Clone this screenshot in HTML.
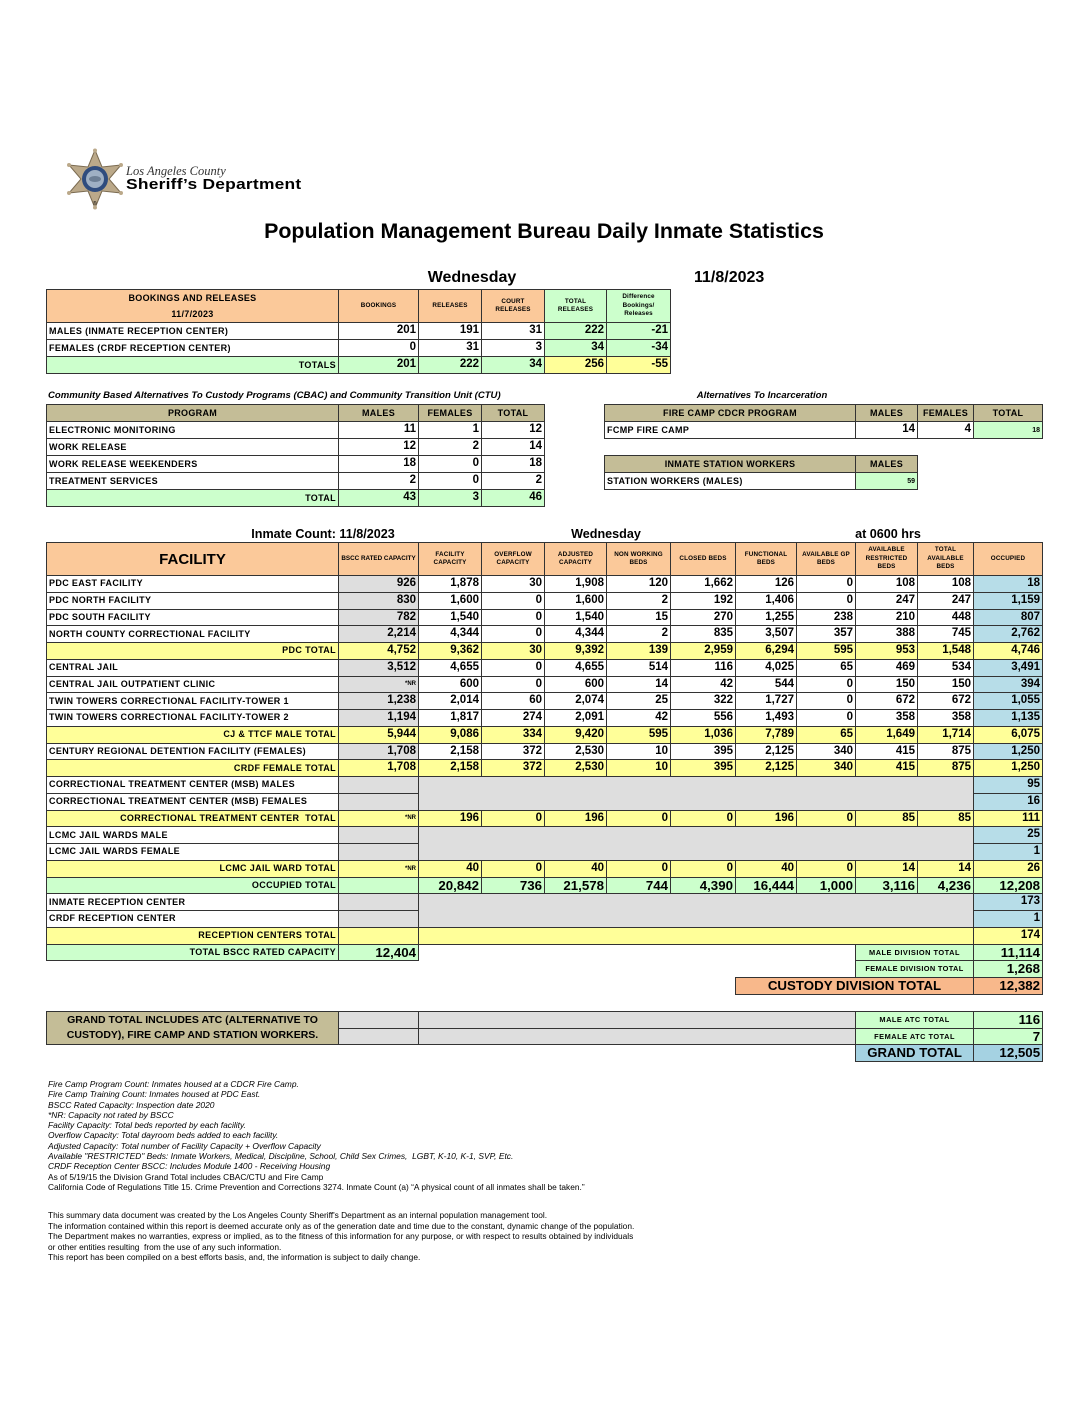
<!DOCTYPE html>
<html><head><meta charset="utf-8">
<style>
html,body{margin:0;padding:0;background:#fff;}
body{width:1088px;height:1408px;position:relative;overflow:hidden;font-family:"Liberation Sans",Arial,sans-serif;color:#000;}
.a{position:absolute;white-space:nowrap;}
.t{position:absolute;border-collapse:collapse;table-layout:fixed;font-family:"Liberation Sans",Arial,sans-serif;font-weight:bold;}
.t td{border:1px solid #333;padding:0 2px;overflow:hidden;white-space:nowrap;line-height:1;vertical-align:middle;}
.t td.nb{border:none;background:transparent;}
.n{text-align:right;font-size:11.5px;}
.N{text-align:right;font-size:13.3px;}
.l{text-align:left;font-size:9px;letter-spacing:0.35px;}
.rl{text-align:right;font-size:9px;letter-spacing:0.35px;}
.c{text-align:center;font-size:9px;letter-spacing:0.3px;}
.h{text-align:center;font-size:6.3px;letter-spacing:0.15px;line-height:1.35 !important;white-space:normal !important;}
.nr{text-align:right;font-size:6px;}
.sl{text-align:center;font-size:7.4px;letter-spacing:0.5px;}
.or{background:#FBC99A;}
.gr{background:#CCFFCC;}
.ye{background:#FFFF99;}
.bl{background:#B7DDE8;}
.gy{background:#DEDEDE;}
.tn{background:#C4BD97;}
.co{background:#F8B88B;}
.gb{background:#A5D2E2;}
.wh{background:#fff;}
.fn{position:absolute;left:48px;font-size:8.45px;line-height:10.3px;white-space:nowrap;}
</style></head><body>

<!-- Logo -->
<svg class="a" style="left:64px;top:148px" width="62" height="62" viewBox="0 0 62 62">
  <polygon points="31,2 38,19 57,17 45,31 57,45 38,43 31,60 24,43 5,45 17,31 5,17 24,19" fill="#BBA98A" stroke="#7a6a50" stroke-width="1"/>
  <circle cx="31" cy="2.5" r="2" fill="#BBA98A"/><circle cx="57" cy="17" r="2" fill="#BBA98A"/><circle cx="57" cy="45" r="2" fill="#BBA98A"/>
  <circle cx="31" cy="59.5" r="2" fill="#BBA98A"/><circle cx="5" cy="45" r="2" fill="#BBA98A"/><circle cx="5" cy="17" r="2" fill="#BBA98A"/>
  <circle cx="31" cy="31" r="13" fill="#2F4C7E"/>
  <circle cx="31" cy="31" r="9" fill="#9FB0C4"/>
  <ellipse cx="31" cy="31" rx="6" ry="3" fill="#6d7f95"/>
</svg>
<div class="a" style="left:93px;top:201px;font-size:5px">®</div>
<div class="a" style="left:126px;top:164px;font-family:'Liberation Serif',serif;font-style:italic;font-size:12.5px;color:#333">Los Angeles County</div>
<div class="a" style="left:126px;top:176px;font-family:'Liberation Sans',Arial,sans-serif;font-size:15px;font-weight:bold;transform:scaleX(1.16);transform-origin:left top;letter-spacing:0.2px">Sheriff’s Department</div>

<!-- Title -->
<div class="a" style="left:0;width:1088px;text-align:center;top:219px;font-size:21.4px;font-weight:bold">Population Management Bureau Daily Inmate Statistics</div>

<div class="a" style="left:422px;width:100px;text-align:center;top:269px;font-size:16px;font-weight:bold">Wednesday</div>
<div class="a" style="left:694px;top:269px;font-size:16px;font-weight:bold">11/8/2023</div>

<!-- Bookings -->
<table class="t" style="left:46px;top:289px;width:624px">
<colgroup><col style="width:292px"><col style="width:80px"><col style="width:63px"><col style="width:63px"><col style="width:62px"><col style="width:64px"></colgroup>
<tr style="height:31px">
<td class="or c" style="line-height:16px">BOOKINGS AND RELEASES<br>11/7/2023</td>
<td class="or h">BOOKINGS</td><td class="or h">RELEASES</td><td class="or h">COURT<br>RELEASES</td>
<td class="gr h">TOTAL<br>RELEASES</td><td class="gr h">Difference<br>Bookings/<br>Releases</td></tr>
<tr style="height:17px"><td class="l">MALES (INMATE RECEPTION CENTER)</td><td class="n">201</td><td class="n">191</td><td class="n">31</td><td class="n gr">222</td><td class="n gr">-21</td></tr>
<tr style="height:17px"><td class="l">FEMALES (CRDF RECEPTION CENTER)</td><td class="n">0</td><td class="n">31</td><td class="n">3</td><td class="n gr">34</td><td class="n gr">-34</td></tr>
<tr style="height:17px" class="gr"><td class="rl">TOTALS</td><td class="n">201</td><td class="n">222</td><td class="n">34</td><td class="n ye">256</td><td class="n ye">-55</td></tr>
</table>

<!-- CBAC -->
<div class="a" style="left:48px;top:390px;font-size:9.55px;font-weight:bold;font-style:italic">Community Based Alternatives To Custody Programs (CBAC) and Community Transition Unit (CTU)</div>
<table class="t" style="left:46px;top:404px;width:498px">
<colgroup><col style="width:292px"><col style="width:80px"><col style="width:63px"><col style="width:63px"></colgroup>
<tr style="height:17px" class="tn"><td class="c">PROGRAM</td><td class="c">MALES</td><td class="c">FEMALES</td><td class="c">TOTAL</td></tr>
<tr style="height:17px"><td class="l">ELECTRONIC MONITORING</td><td class="n">11</td><td class="n">1</td><td class="n">12</td></tr>
<tr style="height:17px"><td class="l">WORK RELEASE</td><td class="n">12</td><td class="n">2</td><td class="n">14</td></tr>
<tr style="height:17px"><td class="l">WORK RELEASE WEEKENDERS</td><td class="n">18</td><td class="n">0</td><td class="n">18</td></tr>
<tr style="height:17px"><td class="l">TREATMENT SERVICES</td><td class="n">2</td><td class="n">0</td><td class="n">2</td></tr>
<tr style="height:17px" class="gr"><td class="rl">TOTAL</td><td class="n">43</td><td class="n">3</td><td class="n">46</td></tr>
</table>

<div class="a" style="left:662px;width:200px;text-align:center;top:390px;font-size:9.5px;font-weight:bold;font-style:italic">Alternatives To Incarceration</div>
<table class="t" style="left:604px;top:404px;width:438px">
<colgroup><col style="width:251px"><col style="width:62px"><col style="width:56px"><col style="width:69px"></colgroup>
<tr style="height:17px" class="tn"><td class="c">FIRE CAMP CDCR PROGRAM</td><td class="c">MALES</td><td class="c">FEMALES</td><td class="c">TOTAL</td></tr>
<tr style="height:17px"><td class="l">FCMP FIRE CAMP</td><td class="n">14</td><td class="n">4</td><td class="gr" style="text-align:right;font-size:7px">18</td></tr>
</table>
<table class="t" style="left:604px;top:455px;width:313px">
<colgroup><col style="width:251px"><col style="width:62px"></colgroup>
<tr style="height:17px" class="tn"><td class="c">INMATE STATION WORKERS</td><td class="c">MALES</td></tr>
<tr style="height:17px"><td class="l">STATION WORKERS (MALES)</td><td class="gr" style="text-align:right;font-size:7px">59</td></tr>
</table>

<!-- Main table captions -->
<div class="a" style="left:243px;width:160px;text-align:center;top:527px;font-size:12.6px;font-weight:bold">Inmate Count: 11/8/2023</div>
<div class="a" style="left:556px;width:100px;text-align:center;top:527px;font-size:12.6px;font-weight:bold">Wednesday</div>
<div class="a" style="left:838px;width:100px;text-align:center;top:527px;font-size:12.6px;font-weight:bold">at 0600 hrs</div>

<table class="t" style="left:46px;top:542px;width:996px">
<colgroup><col style="width:292px"><col style="width:80px"><col style="width:63px"><col style="width:63px"><col style="width:62px"><col style="width:64px"><col style="width:65px"><col style="width:61px"><col style="width:59px"><col style="width:62px"><col style="width:56px"><col style="width:69px"></colgroup>
<tr style="height:33px" class="or">
<td style="text-align:center;font-size:15px">FACILITY</td>
<td class="h" style="letter-spacing:0">BSCC RATED CAPACITY</td>
<td class="h">FACILITY<br>CAPACITY</td>
<td class="h">OVERFLOW<br>CAPACITY</td>
<td class="h">ADJUSTED<br>CAPACITY</td>
<td class="h">NON WORKING<br>BEDS</td>
<td class="h">CLOSED BEDS</td>
<td class="h">FUNCTIONAL<br>BEDS</td>
<td class="h">AVAILABLE GP<br>BEDS</td>
<td class="h">AVAILABLE<br>RESTRICTED<br>BEDS</td>
<td class="h">TOTAL<br>AVAILABLE<br>BEDS</td>
<td class="h">OCCUPIED</td></tr>

<tr style="height:16.75px"><td class="l">PDC EAST FACILITY</td><td class="n gy">926</td><td class="n">1,878</td><td class="n">30</td><td class="n">1,908</td><td class="n">120</td><td class="n">1,662</td><td class="n">126</td><td class="n">0</td><td class="n">108</td><td class="n">108</td><td class="n bl">18</td></tr>
<tr style="height:16.75px"><td class="l">PDC NORTH FACILITY</td><td class="n gy">830</td><td class="n">1,600</td><td class="n">0</td><td class="n">1,600</td><td class="n">2</td><td class="n">192</td><td class="n">1,406</td><td class="n">0</td><td class="n">247</td><td class="n">247</td><td class="n bl">1,159</td></tr>
<tr style="height:16.75px"><td class="l">PDC SOUTH FACILITY</td><td class="n gy">782</td><td class="n">1,540</td><td class="n">0</td><td class="n">1,540</td><td class="n">15</td><td class="n">270</td><td class="n">1,255</td><td class="n">238</td><td class="n">210</td><td class="n">448</td><td class="n bl">807</td></tr>
<tr style="height:16.75px"><td class="l">NORTH COUNTY CORRECTIONAL FACILITY</td><td class="n gy">2,214</td><td class="n">4,344</td><td class="n">0</td><td class="n">4,344</td><td class="n">2</td><td class="n">835</td><td class="n">3,507</td><td class="n">357</td><td class="n">388</td><td class="n">745</td><td class="n bl">2,762</td></tr>
<tr style="height:16.75px" class="ye"><td class="rl">PDC TOTAL</td><td class="n">4,752</td><td class="n">9,362</td><td class="n">30</td><td class="n">9,392</td><td class="n">139</td><td class="n">2,959</td><td class="n">6,294</td><td class="n">595</td><td class="n">953</td><td class="n">1,548</td><td class="n">4,746</td></tr>
<tr style="height:16.75px"><td class="l">CENTRAL JAIL</td><td class="n gy">3,512</td><td class="n">4,655</td><td class="n">0</td><td class="n">4,655</td><td class="n">514</td><td class="n">116</td><td class="n">4,025</td><td class="n">65</td><td class="n">469</td><td class="n">534</td><td class="n bl">3,491</td></tr>
<tr style="height:16.75px"><td class="l">CENTRAL JAIL OUTPATIENT CLINIC</td><td class="nr gy">*NR</td><td class="n">600</td><td class="n">0</td><td class="n">600</td><td class="n">14</td><td class="n">42</td><td class="n">544</td><td class="n">0</td><td class="n">150</td><td class="n">150</td><td class="n bl">394</td></tr>
<tr style="height:16.75px"><td class="l">TWIN TOWERS CORRECTIONAL FACILITY-TOWER 1</td><td class="n gy">1,238</td><td class="n">2,014</td><td class="n">60</td><td class="n">2,074</td><td class="n">25</td><td class="n">322</td><td class="n">1,727</td><td class="n">0</td><td class="n">672</td><td class="n">672</td><td class="n bl">1,055</td></tr>
<tr style="height:16.75px"><td class="l">TWIN TOWERS CORRECTIONAL FACILITY-TOWER 2</td><td class="n gy">1,194</td><td class="n">1,817</td><td class="n">274</td><td class="n">2,091</td><td class="n">42</td><td class="n">556</td><td class="n">1,493</td><td class="n">0</td><td class="n">358</td><td class="n">358</td><td class="n bl">1,135</td></tr>
<tr style="height:16.75px" class="ye"><td class="rl">CJ &amp; TTCF MALE TOTAL</td><td class="n">5,944</td><td class="n">9,086</td><td class="n">334</td><td class="n">9,420</td><td class="n">595</td><td class="n">1,036</td><td class="n">7,789</td><td class="n">65</td><td class="n">1,649</td><td class="n">1,714</td><td class="n">6,075</td></tr>
<tr style="height:16.75px"><td class="l">CENTURY REGIONAL DETENTION FACILITY (FEMALES)</td><td class="n gy">1,708</td><td class="n">2,158</td><td class="n">372</td><td class="n">2,530</td><td class="n">10</td><td class="n">395</td><td class="n">2,125</td><td class="n">340</td><td class="n">415</td><td class="n">875</td><td class="n bl">1,250</td></tr>
<tr style="height:16.75px" class="ye"><td class="rl">CRDF FEMALE TOTAL</td><td class="n">1,708</td><td class="n">2,158</td><td class="n">372</td><td class="n">2,530</td><td class="n">10</td><td class="n">395</td><td class="n">2,125</td><td class="n">340</td><td class="n">415</td><td class="n">875</td><td class="n">1,250</td></tr>
<tr style="height:16.75px"><td class="l">CORRECTIONAL TREATMENT CENTER (MSB) MALES</td><td class="gy"></td><td class="gy" colspan="9" rowspan="2"></td><td class="n bl">95</td></tr>
<tr style="height:16.75px"><td class="l">CORRECTIONAL TREATMENT CENTER (MSB) FEMALES</td><td class="gy"></td><td class="n bl">16</td></tr>
<tr style="height:16.75px" class="ye"><td class="rl">CORRECTIONAL TREATMENT CENTER&nbsp; TOTAL</td><td class="nr">*NR</td><td class="n">196</td><td class="n">0</td><td class="n">196</td><td class="n">0</td><td class="n">0</td><td class="n">196</td><td class="n">0</td><td class="n">85</td><td class="n">85</td><td class="n">111</td></tr>
<tr style="height:16.75px"><td class="l">LCMC JAIL WARDS MALE</td><td class="gy"></td><td class="gy" colspan="9" rowspan="2"></td><td class="n bl">25</td></tr>
<tr style="height:16.75px"><td class="l">LCMC JAIL WARDS FEMALE</td><td class="gy"></td><td class="n bl">1</td></tr>
<tr style="height:16.75px" class="ye"><td class="rl">LCMC JAIL WARD TOTAL</td><td class="nr">*NR</td><td class="n">40</td><td class="n">0</td><td class="n">40</td><td class="n">0</td><td class="n">0</td><td class="n">40</td><td class="n">0</td><td class="n">14</td><td class="n">14</td><td class="n">26</td></tr>
<tr style="height:16.75px" class="gr"><td class="rl">OCCUPIED TOTAL</td><td></td><td class="N">20,842</td><td class="N">736</td><td class="N">21,578</td><td class="N">744</td><td class="N">4,390</td><td class="N">16,444</td><td class="N">1,000</td><td class="N">3,116</td><td class="N">4,236</td><td class="N">12,208</td></tr>
<tr style="height:16.75px"><td class="l">INMATE RECEPTION CENTER</td><td class="gy"></td><td class="gy" colspan="9" rowspan="2"></td><td class="n bl">173</td></tr>
<tr style="height:16.75px"><td class="l">CRDF RECEPTION CENTER</td><td class="gy"></td><td class="n bl">1</td></tr>
<tr style="height:16.75px" class="ye"><td class="rl">RECEPTION CENTERS TOTAL</td><td></td><td colspan="9"></td><td class="n">174</td></tr>
<tr style="height:16.75px"><td class="rl gr">TOTAL BSCC RATED CAPACITY</td><td class="N gr">12,404</td><td class="nb" colspan="7"></td><td class="gr sl" colspan="2">MALE DIVISION TOTAL</td><td class="N gr">11,114</td></tr>
<tr style="height:16.75px"><td class="nb" colspan="9"></td><td class="gr sl" colspan="2" style="letter-spacing:0.35px">FEMALE DIVISION TOTAL</td><td class="N gr">1,268</td></tr>
<tr style="height:16.75px"><td class="nb" colspan="7"></td><td class="co" colspan="4" style="text-align:center;font-size:13.3px">CUSTODY DIVISION TOTAL</td><td class="N co">12,382</td></tr>
</table>

<!-- ATC section -->
<table class="t" style="left:46px;top:1011px;width:996px">
<colgroup><col style="width:292px"><col style="width:80px"><col style="width:63px"><col style="width:63px"><col style="width:62px"><col style="width:64px"><col style="width:65px"><col style="width:61px"><col style="width:59px"><col style="width:62px"><col style="width:56px"><col style="width:69px"></colgroup>
<tr style="height:16.5px"><td class="tn" rowspan="2" style="text-align:center;font-size:10.5px;line-height:1.4;white-space:normal">GRAND TOTAL INCLUDES ATC (ALTERNATIVE TO<br>CUSTODY), FIRE CAMP AND STATION WORKERS.</td><td class="gy"></td><td class="gy" colspan="7"></td><td class="gr sl" colspan="2">MALE ATC TOTAL</td><td class="N gr">116</td></tr>
<tr style="height:16.5px"><td class="gy"></td><td class="gy" colspan="7"></td><td class="gr sl" colspan="2">FEMALE ATC TOTAL</td><td class="N gr">7</td></tr>
<tr style="height:16.5px"><td class="nb" colspan="9"></td><td class="gb" colspan="2" style="text-align:center;font-size:13.2px">GRAND TOTAL</td><td class="N gb">12,505</td></tr>
</table>

<!-- Footnotes -->
<div class="fn" style="top:1079px">
<i>Fire Camp Program Count: Inmates housed at a CDCR Fire Camp.</i><br>
<i>Fire Camp Training Count: Inmates housed at PDC East.</i><br>
<i>BSCC Rated Capacity: Inspection date 2020</i><br>
<i>*NR: Capacity not rated by BSCC</i><br>
<i>Facility Capacity: Total beds reported by each facility.</i><br>
<i>Overflow Capacity: Total dayroom beds added to each facility.</i><br>
<i>Adjusted Capacity: Total number of Facility Capacity + Overflow Capacity</i><br>
<i>Available "RESTRICTED" Beds: Inmate Workers, Medical, Discipline, School, Child Sex Crimes,&nbsp; LGBT, K-10, K-1, SVP, Etc.</i><br>
<i>CRDF Reception Center BSCC: Includes Module 1400 - Receiving Housing</i><br>
<span style="font-size:8.35px">As of 5/19/15 the Division Grand Total includes CBAC/CTU and Fire Camp</span><br>
<span style="font-size:8.35px">California Code of Regulations Title 15. Crime Prevention and Corrections 3274. Inmate Count (a) “A physical count of all inmates shall be taken.”</span>
</div>

<div class="fn" style="top:1210px;font-size:8.35px;line-height:10.5px">
This summary data document was created by the Los Angeles County Sheriff's Department as an internal population management tool.<br>
The information contained within this report is deemed accurate only as of the generation date and time due to the constant, dynamic change of the population.<br>
The Department makes no warranties, express or implied, as to the fitness of this information for any purpose, or with respect to results obtained by individuals<br>
or other entities resulting&nbsp; from the use of any such information.<br>
This report has been compiled on a best efforts basis, and, the information is subject to daily change.
</div>

</body></html>
